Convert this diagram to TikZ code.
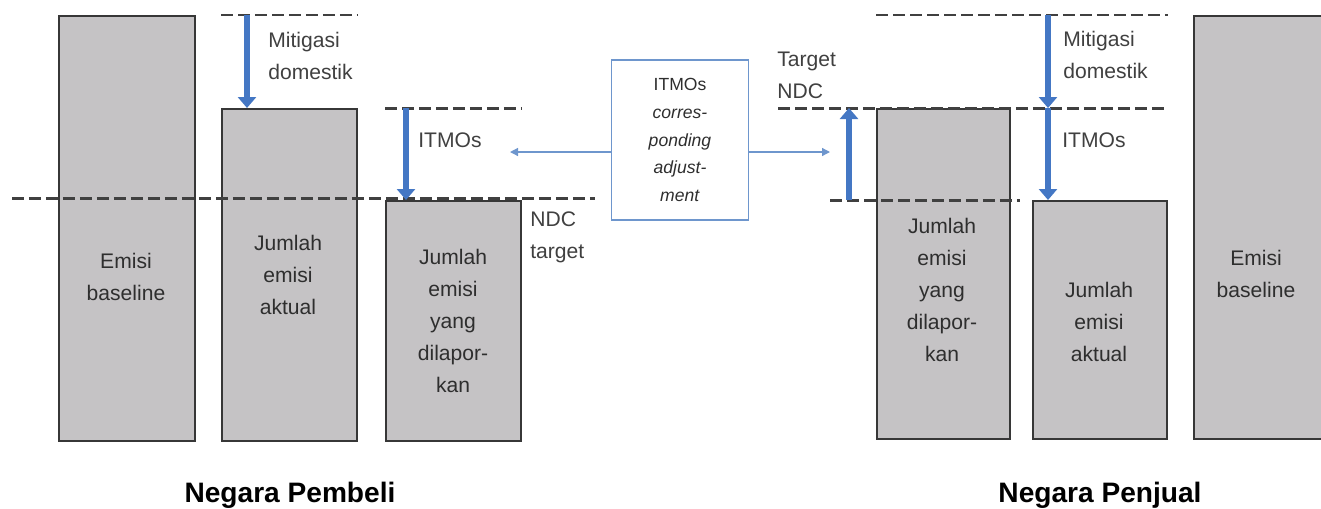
\documentclass[tikz,border=0pt]{standalone}
\usepackage{fontspec}
\setmainfont{Liberation Sans}
\usetikzlibrary{positioning, arrows.meta}
\definecolor{barfill}{RGB}{197,195,197}
\definecolor{bardraw}{RGB}{55,55,55}
\definecolor{mitblue}{RGB}{68,119,196}
\definecolor{linkblue}{RGB}{110,150,205}
\definecolor{txtgray}{RGB}{64,64,64}
\tikzset{
    bar/.style = {
        draw = bardraw, fill = barfill,
        line width = 1.1pt, inner sep = 0pt,
        anchor = north west
    },
    bartext/.style = {
        align = center, inner sep = 0pt,
        font = \fontsize{12}{18.2}\selectfont, text = black!82
    },
    note/.style = {
        align = left, inner sep = 0pt, anchor = west,
        font = \fontsize{12}{18.2}\selectfont, text = txtgray
    },
    level/.style = {draw = txtgray, line width = 1.7pt, dash pattern = on 0.24cm off 0.1cm},
    mitarrow/.style = {draw = mitblue, line width = 0.13cm, -{Triangle[width = 0.36cm, length = 0.22cm]}},
    link/.style = {draw = linkblue, line width = 0.7pt, -{Triangle[width = 0.16cm, length = 0.16cm]}},
    country/.style = {font = \fontsize{16}{19}\selectfont\bfseries}
}
\begin{document}
\begin{tikzpicture}[x = 0.02cm, y = -0.02cm]
    \useasboundingbox (0,0) rectangle (1321,508);

    % Negara Pembeli
    \node[bar, minimum width = 2.72cm, minimum height = 8.5cm] (baseL) at (58,15) {};
    \node[bar, minimum width = 2.7cm, minimum height = 6.64cm] (aktualL) at (221,108) {};
    \node[bar, minimum width = 2.7cm, minimum height = 4.8cm] (laporL) at (385,200) {};

    \node[bartext] (baseLtxt) at (126,277) {Emisi\\baseline};
    \node[bartext] (aktualLtxt) at (288,275) {Jumlah\\emisi\\aktual};
    \node[bartext] (laporLtxt) at (453,321) {Jumlah\\emisi\\yang\\dilapor-\\kan};

    \draw[level] (aktualL.west |- baseL.north) -- (aktualL.east |- baseL.north);
    \draw[level] (laporL.west |- aktualL.north) -- (laporL.east |- aktualL.north);
    \draw[level] (12,198) -- (595,198);

    \coordinate (mitL) at (247,15);
    \coordinate (itmoL) at (406,108);
    \draw[mitarrow] (mitL) -- (mitL |- aktualL.north);
    \draw[mitarrow] (itmoL) -- (itmoL |- laporL.north);

    \node[note] (mitLtxt) at (268,56) {Mitigasi\\domestik};
    \node[note] (itmoLtxt) at (418,140) {ITMOs};
    \node[note] (ndcLtxt) at (530,237) {NDC\\target};

    % ITMOs box
    \node[draw = linkblue, line width = 1pt,
        minimum width = 2.74cm, minimum height = 3.2cm,
        align = center, text = black!82,
        font = \fontsize{10}{15.8}\selectfont
    ] (itmo) at (680,140) {ITMOs\\\textit{corres-}\\\textit{ponding}\\\textit{adjust-}\\\textit{ment}};

    \coordinate (buyer) at (510,152);
    \coordinate (seller) at (830,152);
    \draw[link] (itmo.west |- buyer) -- (buyer);
    \draw[link] (itmo.east |- seller) -- (seller);

    % Negara Penjual
    \node[bar, minimum width = 2.66cm, minimum height = 6.6cm] (laporR) at (876,108) {};
    \node[bar, minimum width = 2.68cm, minimum height = 4.76cm] (aktualR) at (1032,200) {};
    \node[bar, minimum width = 2.56cm, minimum height = 8.46cm] (baseR) at (1193,15) {};

    \node[bartext] (laporRtxt) at (942,290) {Jumlah\\emisi\\yang\\dilapor-\\kan};
    \node[bartext] (aktualRtxt) at (1099,322) {Jumlah\\emisi\\aktual};
    \node[bartext] (baseRtxt) at (1256,274) {Emisi\\baseline};

    \draw[level] (laporR.west |- baseR.north) -- (aktualR.east |- baseR.north);
    \draw[level] (778,108) -- (aktualR.east |- laporR.north);
    \draw[level] (830,200) -- (1020,200);

    \coordinate (mitR) at (1048,15);
    \coordinate (itmoR) at (1048,108);
    \coordinate (ndcR) at (849,200);
    \draw[mitarrow] (mitR) -- (mitR |- laporR.north);
    \draw[mitarrow] (itmoR) -- (itmoR |- aktualR.north);
    \draw[mitarrow] (ndcR) -- (ndcR |- laporR.north);

    \node[note] (ndcRtxt) at (777,75) {Target\\NDC};
    \node[note] (mitRtxt) at (1063,55) {Mitigasi\\domestik};
    \node[note] (itmoRtxt) at (1062,140) {ITMOs};

    \node[country] (pembeli) at (290,495) {Negara Pembeli};
    \node[country] (penjual) at (1100,495) {Negara Penjual};
\end{tikzpicture}
\end{document}
